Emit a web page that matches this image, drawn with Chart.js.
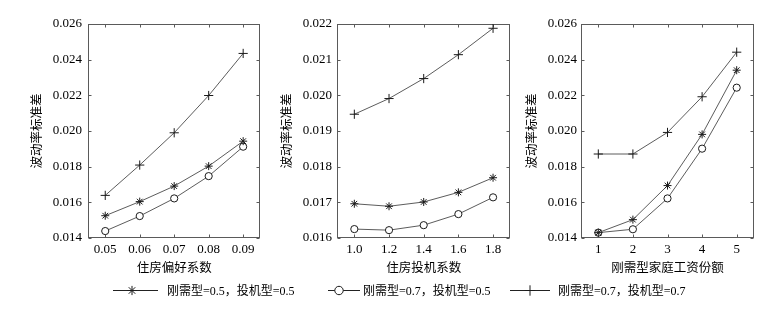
<!DOCTYPE html>
<html><head><meta charset="utf-8">
<script src="https://cdn.jsdelivr.net/npm/chart.js@4/dist/chart.umd.min.js"></script>
<style>
html,body{margin:0;padding:0;background:#fff;width:778px;height:315px;overflow:hidden}
canvas{position:absolute;top:0}
.lt{position:absolute;top:283px;font:12px 'Liberation Serif','Noto Sans CJK SC',serif;color:#000;line-height:16px;white-space:nowrap}
</style></head><body>
<canvas id="c1" style="left:0px;width:266px;height:280px"></canvas>
<canvas id="c2" style="left:266px;width:250px;height:280px"></canvas>
<canvas id="c3" style="left:516px;width:262px;height:280px"></canvas>
<canvas id="lg" style="left:0px;top:281px;width:778px;height:20px"></canvas>
<span class="lt" id="t0" style="left:167px"></span>
<span class="lt" id="t1" style="left:363px"></span>
<span class="lt" id="t2" style="left:558px"></span>
<script>
// ---- data ----
const seriesNames = ['刚需型=0.5，投机型=0.5', '刚需型=0.7，投机型=0.5', '刚需型=0.7，投机型=0.7'];
const yTitle = '波动率标准差';
const xTitles = ['住房偏好系数', '住房投机系数', '刚需型家庭工资份额'];

const xLabels1 = ['0.05', '0.06', '0.07', '0.08', '0.09'];
const p1Star   = [0.01525, 0.01604, 0.01691, 0.01803, 0.01943];
const p1Circle = [0.01439, 0.01523, 0.01622, 0.01747, 0.01912];
const p1Cross  = [0.01639, 0.01809, 0.01990, 0.02199, 0.02435];
const yTicks1  = [0.014, 0.016, 0.018, 0.020, 0.022, 0.024, 0.026];

const xLabels2 = ['1.0', '1.2', '1.4', '1.6', '1.8'];
const p2Star   = [0.01696, 0.01689, 0.01701, 0.01728, 0.01769];
const p2Circle = [0.01625, 0.01622, 0.01636, 0.01667, 0.01714];
const p2Cross  = [0.01947, 0.01991, 0.02047, 0.02114, 0.02188];
const yTicks2  = [0.016, 0.017, 0.018, 0.019, 0.020, 0.021, 0.022];

const xLabels3 = ['1', '2', '3', '4', '5'];
const p3Star   = [0.01430, 0.01503, 0.01694, 0.01981, 0.02341];
const p3Circle = [0.01430, 0.01449, 0.01622, 0.01901, 0.02243];
const p3Cross  = [0.01871, 0.01871, 0.01992, 0.02192, 0.02442];
const yTicks3  = [0.014, 0.016, 0.018, 0.020, 0.022, 0.024, 0.026];

// ---- styles ----
const FONT = "'Liberation Serif','Noto Sans CJK SC',serif";
const LINE = '#4a4a4a', MARK = '#1a1a1a', FRAME = '#5a5a5a', TXT = '#000';
const styles = [
  {pointStyle: 'star', radius: 4, bg: MARK},
  {pointStyle: 'circle', radius: 3.6, bg: '#fff'},
  {pointStyle: 'cross', radius: 4.6, bg: MARK}
];

const framePlugin = {
  id: 'frame',
  beforeDatasetsDraw(chart) {
    const {ctx, chartArea: a, scales: {x, y}} = chart;
    const L = Math.round(a.left) + 0.5, R = Math.round(a.right) - 0.5;
    const T = Math.round(a.top) + 0.5, B = Math.round(a.bottom) - 0.5;
    ctx.save();
    ctx.strokeStyle = FRAME; ctx.lineWidth = 1;
    ctx.strokeRect(L, T, R - L, B - T);
    ctx.beginPath();
    const tl = 3;
    x.ticks.forEach((t, i) => {
      const px = Math.round(x.getPixelForTick(i)) + 0.5;
      ctx.moveTo(px, B); ctx.lineTo(px, B - tl);
      ctx.moveTo(px, T); ctx.lineTo(px, T + tl);
    });
    y.ticks.forEach(t => {
      const py = Math.round(y.getPixelForValue(t.value)) + 0.5;
      ctx.moveTo(L, py); ctx.lineTo(L + tl, py);
      ctx.moveTo(R, py); ctx.lineTo(R - tl, py);
    });
    ctx.stroke();
    ctx.restore();
  }
};

function makeChart(id, cw, labels, series, yTicks, xTitle, o) {
  const cv = document.getElementById(id);
  cv.width = cw; cv.height = 280;
  return new Chart(cv, {
    type: 'line',
    data: {
      labels: labels,
      datasets: series.map((d, i) => ({
        label: seriesNames[i], data: d,
        borderColor: LINE, borderWidth: 0.9, tension: 0,
        pointStyle: styles[i].pointStyle, pointRadius: styles[i].radius,
        pointBackgroundColor: styles[i].bg, pointBorderColor: MARK, pointBorderWidth: 1,
        pointHoverRadius: styles[i].radius
      }))
    },
    options: {
      responsive: false, animation: false, devicePixelRatio: 1,
      events: [],
      layout: {padding: {left: 0, right: o.padR, top: 24, bottom: 0}},
      plugins: {legend: {display: false}, tooltip: {enabled: false}},
      scales: {
        x: {
          type: 'category', offset: true,
          grid: {display: false, drawTicks: false}, border: {display: false},
          ticks: {color: TXT, font: {family: FONT, size: 13}, padding: 4, maxRotation: 0, autoSkip: false},
          title: {display: true, text: xTitle, color: TXT, font: {family: FONT, size: 12.5}, padding: {top: 0, bottom: 4}},
          afterFit(s) { s.height = 42; }
        },
        y: {
          min: yTicks[0], max: yTicks[yTicks.length - 1],
          grid: {display: false, drawTicks: false}, border: {display: false},
          afterBuildTicks(s) { s.ticks = yTicks.map(v => ({value: v})); },
          ticks: {color: TXT, font: {family: FONT, size: 13}, padding: o.tickPad, callback: v => Number(v).toFixed(3)},
          title: {display: true, text: yTitle, color: TXT, font: {family: FONT, size: 12.5}, padding: {top: o.titlePad, bottom: 0}},
          afterFit(s) { s.width = o.yw; }
        }
      }
    },
    plugins: [framePlugin]
  });
}

makeChart('c1', 266, xLabels1, [p1Star, p1Circle, p1Cross], yTicks1, xTitles[0], {padR: 5, yw: 88, tickPad: 6, titlePad: 30.5});
makeChart('c2', 250, xLabels2, [p2Star, p2Circle, p2Cross], yTicks2, xTitles[1], {padR: 5, yw: 71, tickPad: 5, titlePad: 14.5});
makeChart('c3', 262, xLabels3, [p3Star, p3Circle, p3Cross], yTicks3, xTitles[2], {padR: 24, yw: 65, tickPad: 4, titlePad: 9.5});

// ---- legend ----
const lg = document.getElementById('lg');
lg.width = 778; lg.height = 20;
const lctx = lg.getContext('2d');
const legendLayout = [
  {x0: 113, x1: 158, mx: 132},
  {x0: 328, x1: 360, mx: 339},
  {x0: 510, x1: 550, mx: 530}
];
const ly = 9.5;
legendLayout.forEach((p, i) => {
  lctx.strokeStyle = '#222'; lctx.lineWidth = 1;
  lctx.beginPath(); lctx.moveTo(p.x0, ly); lctx.lineTo(p.x1, ly); lctx.stroke();
  lctx.fillStyle = styles[i].bg; lctx.strokeStyle = MARK; lctx.lineWidth = 1;
  Chart.helpers.drawPoint(lctx, {pointStyle: styles[i].pointStyle, radius: styles[i].radius + 0.6, borderWidth: 1}, p.mx, ly);
  document.getElementById('t' + i).textContent = seriesNames[i];
});
</script>
</body></html>
